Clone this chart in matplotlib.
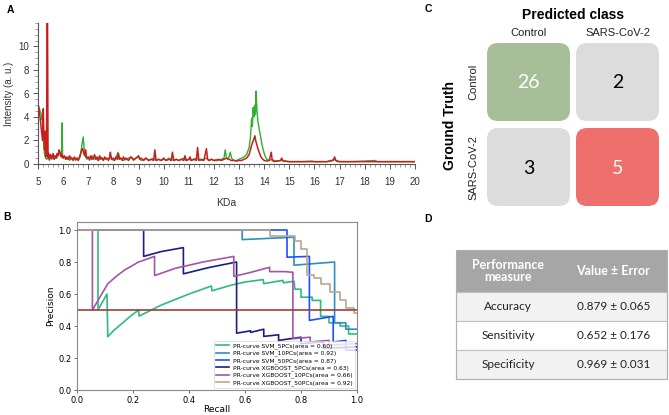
import matplotlib
matplotlib.use('Agg')
import matplotlib.pyplot as plt
from matplotlib.patches import FancyBboxPatch, Rectangle
from matplotlib.ticker import MultipleLocator

# ---------------- Panel A: MALDI spectra ----------------
control_kda = [5.00, 5.04, 5.08, 5.12, 5.15, 5.17, 5.20, 5.23, 5.26, 5.30, 5.35, 5.40, 5.45, 5.50, 5.55,
               5.60, 5.65, 5.70, 5.75, 5.80, 5.85, 5.90, 5.94, 5.96, 5.98, 6.02, 6.08, 6.14, 6.20, 6.26,
               6.32, 6.38, 6.44, 6.50, 6.56, 6.62, 6.68, 6.72, 6.76, 6.80, 6.83, 6.86, 6.90, 6.95, 7.00,
               7.05, 7.10, 7.15, 7.20, 7.30, 7.40, 7.50, 7.60, 7.70, 7.80, 7.90, 8.00, 8.10, 8.18, 8.22,
               8.30, 8.40, 8.50, 8.60, 8.70, 8.80, 8.90, 9.00, 9.10, 9.20, 9.30, 9.40, 9.50, 9.60, 9.70,
               9.80, 9.90, 10.0, 10.1, 10.2, 10.3, 10.4, 10.5, 10.6, 10.7, 10.8, 10.9, 11.0, 11.1, 11.2,
               11.3, 11.4, 11.5, 11.6, 11.7, 11.8, 11.9, 12.0, 12.1, 12.2, 12.3, 12.4, 12.45, 12.5, 12.55,
               12.6, 12.65, 12.7, 12.8, 12.9, 13.0, 13.1, 13.2, 13.3, 13.4, 13.45, 13.5, 13.53, 13.56, 13.59,
               13.62, 13.65, 13.68, 13.71, 13.75, 13.8, 13.85, 13.9, 13.95, 14.0, 14.05, 14.1, 14.2, 14.3, 14.4,
               14.5, 14.7, 15.0, 15.5, 15.9, 16.0, 16.5, 16.8, 16.9, 17.5, 18.0, 18.4, 18.5, 19.0, 19.5, 20.0]
control_int = [4.8, 4.9, 4.5, 4.3, 3.8, 4.0, 2.8, 1.6, 0.8, 0.5, 0.4, 0.6, 0.3, 0.6, 0.4,
               0.7, 0.4, 0.6, 0.5, 0.8, 1.0, 0.7, 0.6, 3.5, 0.6, 0.5, 0.6, 0.4, 0.5, 0.3,
               0.6, 0.4, 0.5, 0.3, 0.5, 0.4, 0.6, 1.2, 1.8, 2.3, 1.5, 0.9, 0.6, 0.4, 0.6,
               0.3, 0.5, 0.7, 0.4, 0.5, 0.3, 0.6, 0.4, 0.5, 0.4, 0.6, 0.3, 0.5, 1.0, 0.4,
               0.5, 0.3, 0.4, 0.5, 0.6, 0.3, 0.5, 0.6, 0.3, 0.4, 0.5, 0.3, 0.4, 0.5, 0.3,
               0.4, 0.3, 0.4, 0.3, 0.5, 0.4, 0.3, 0.4, 0.3, 0.4, 0.5, 0.3, 0.4, 0.3, 0.4,
               0.5, 0.4, 0.3, 0.4, 0.5, 0.3, 0.4, 0.3, 0.4, 0.3, 0.4, 0.5, 1.2, 0.5, 0.4,
               0.6, 1.0, 0.5, 0.3, 0.3, 0.4, 0.5, 0.6, 0.8, 1.4, 2.2, 3.9, 3.2, 4.8, 4.0,
               5.0, 4.2, 6.2, 4.6, 3.6, 3.0, 2.4, 1.8, 1.3, 0.9, 0.6, 0.4, 0.3, 0.4, 0.3,
               0.25, 0.3, 0.2, 0.2, 0.25, 0.2, 0.2, 0.4, 0.2, 0.2, 0.25, 0.3, 0.2, 0.2, 0.2, 0.2]

sars_kda = [5.00, 5.03, 5.06, 5.09, 5.12, 5.15, 5.18, 5.21, 5.23, 5.26, 5.29, 5.31, 5.34, 5.36, 5.38,
            5.40, 5.42, 5.46, 5.50, 5.55, 5.60, 5.64, 5.68, 5.72, 5.76, 5.80, 5.84, 5.88, 5.92, 5.96,
            6.00, 6.05, 6.10, 6.15, 6.20, 6.25, 6.30, 6.35, 6.40, 6.45, 6.50, 6.55, 6.60, 6.65, 6.70,
            6.74, 6.78, 6.82, 6.86, 6.90, 6.93, 7.00, 7.05, 7.10, 7.15, 7.20, 7.25, 7.30, 7.35, 7.40,
            7.45, 7.50, 7.55, 7.60, 7.65, 7.70, 7.75, 7.80, 7.85, 7.88, 7.92, 8.00, 8.05, 8.10, 8.15,
            8.20, 8.25, 8.30, 8.35, 8.40, 8.45, 8.50, 8.60, 8.70, 8.80, 8.90, 9.00, 9.05, 9.10, 9.20,
            9.30, 9.40, 9.50, 9.60, 9.65, 9.70, 9.80, 9.90, 10.0, 10.1, 10.2, 10.3, 10.35, 10.4, 10.5,
            10.6, 10.7, 10.8, 10.85, 10.9, 11.0, 11.05, 11.1, 11.2, 11.3, 11.35, 11.4, 11.5, 11.6, 11.7,
            11.75, 11.8, 11.9, 12.0, 12.1, 12.2, 12.3, 12.4, 12.5, 12.6, 12.7, 12.8, 12.9, 13.0, 13.1,
            13.2, 13.3, 13.4, 13.45, 13.5, 13.55, 13.6, 13.63, 13.66, 13.7, 13.75, 13.8, 13.85, 13.9, 14.0,
            14.1, 14.2, 14.28, 14.32, 14.4, 14.5, 14.65, 14.7, 14.75, 15.0, 15.5, 16.0, 16.5, 16.75, 16.8,
            16.85, 17.0, 17.5, 18.0, 18.5, 19.0, 19.5, 20.0]
sars_int = [4.6, 4.7, 4.3, 3.8, 3.2, 2.6, 2.0, 4.7, 2.8, 1.2, 2.8, 0.6, 0.8, 12.0, 12.0,
            0.5, 0.9, 0.4, 0.8, 0.5, 0.9, 0.4, 0.7, 0.5, 0.9, 0.7, 1.2, 1.0, 0.6, 0.8,
            0.5, 0.7, 0.4, 0.6, 0.4, 0.7, 0.4, 0.5, 0.3, 0.6, 0.4, 0.5, 0.3, 0.6, 0.9,
            1.2, 1.3, 0.9, 0.7, 1.2, 0.5, 0.6, 0.4, 0.7, 0.4, 0.5, 0.8, 0.4, 0.6, 0.3,
            0.7, 0.4, 0.5, 0.3, 0.6, 0.4, 0.5, 0.3, 0.6, 1.0, 0.4, 0.5, 0.3, 0.6, 0.4,
            0.9, 0.4, 0.5, 0.3, 0.6, 0.4, 0.5, 0.3, 0.6, 0.4, 0.5, 0.7, 0.4, 0.5, 0.3,
            0.5, 0.3, 0.4, 0.3, 1.2, 0.3, 0.4, 0.3, 0.5, 0.3, 0.4, 0.3, 1.0, 0.3, 0.4,
            0.3, 0.4, 0.3, 0.7, 0.3, 0.4, 0.6, 0.3, 0.4, 0.3, 1.4, 0.3, 0.4, 0.3, 1.3,
            0.4, 0.3, 0.4, 0.3, 0.3, 0.4, 0.3, 0.4, 0.5, 0.4, 0.3, 0.3, 0.25, 0.3, 0.3,
            0.4, 0.5, 0.8, 1.2, 1.6, 1.9, 2.2, 2.4, 2.0, 1.7, 1.3, 1.0, 0.7, 0.5, 0.3,
            0.25, 0.3, 1.0, 0.3, 0.2, 0.25, 0.3, 0.5, 0.25, 0.2, 0.2, 0.2, 0.2, 0.3, 0.6,
            0.3, 0.2, 0.2, 0.2, 0.2, 0.2, 0.2, 0.2]

# ---------------- Panel B: precision-recall curves ----------------
pr_names = ['SVM_5PCs', 'SVM_10PCs', 'SVM_50PCs', 'XGBOOST_5PCs', 'XGBOOST_10PCs', 'XGBOOST_50PCs']
pr_area = [0.60, 0.92, 0.87, 0.63, 0.66, 0.92]
pr_colors = ['#2dbd7b', '#2e8fbf', '#1f4fff', '#1c1c8c', '#a256a6', '#bba68e']

svm5_recall = [0, 0.075, 0.075, 0.107, 0.11, 0.13, 0.15, 0.17, 0.19, 0.22, 0.222, 0.30, 0.40, 0.48,
               0.482, 0.55, 0.60, 0.665, 0.667, 0.735, 0.737, 0.775, 0.778, 0.80, 0.80, 0.84, 0.84,
               0.87, 0.87, 0.90, 0.90, 0.94, 0.94, 0.97, 0.97, 1.0]
svm5_precision = [1.0, 1.0, 0.5, 0.6, 0.333, 0.37, 0.40, 0.43, 0.46, 0.5, 0.462, 0.53, 0.60, 0.65,
                  0.62, 0.655, 0.675, 0.69, 0.665, 0.685, 0.67, 0.68, 0.63, 0.63, 0.58, 0.58, 0.56,
                  0.56, 0.46, 0.46, 0.42, 0.42, 0.40, 0.40, 0.35, 0.35]
svm10_recall = [0, 0.59, 0.59, 0.775, 0.775, 0.92, 0.92, 0.96, 0.96, 1.0]
svm10_precision = [1.0, 1.0, 0.94, 0.955, 0.78, 0.80, 0.42, 0.42, 0.38, 0.38]
svm50_recall = [0, 0.75, 0.75, 0.83, 0.83, 0.915, 0.915, 0.96, 0.96, 1.0]
svm50_precision = [1.0, 1.0, 0.83, 0.835, 0.435, 0.46, 0.30, 0.31, 0.25, 0.25]
xgb5_recall = [0, 0.238, 0.238, 0.30, 0.38, 0.38, 0.47, 0.57, 0.57, 0.62, 0.62, 0.667, 0.667,
               0.72, 0.72, 0.80, 0.80, 0.88, 0.88, 1.0]
xgb5_precision = [1.0, 1.0, 0.835, 0.865, 0.89, 0.726, 0.765, 0.80, 0.355, 0.37, 0.36, 0.38, 0.335,
                  0.345, 0.31, 0.33, 0.29, 0.30, 0.26, 0.27]
xgb10_recall = [0, 0.055, 0.055, 0.075, 0.11, 0.14, 0.17, 0.22, 0.277, 0.277, 0.35, 0.45, 0.56,
                0.56, 0.62, 0.688, 0.688, 0.74, 0.771, 0.771, 0.80, 0.833, 0.833, 0.90, 0.90, 1.0]
xgb10_precision = [1.0, 1.0, 0.5, 0.56, 0.664, 0.71, 0.75, 0.80, 0.835, 0.715, 0.76, 0.80, 0.835,
                   0.71, 0.735, 0.767, 0.74, 0.74, 0.736, 0.32, 0.325, 0.33, 0.30, 0.31, 0.28, 0.29]
xgb50_recall = [0, 0.69, 0.69, 0.78, 0.78, 0.80, 0.80, 0.82, 0.82, 0.845, 0.845, 0.87, 0.87, 0.905,
                0.905, 0.94, 0.94, 0.96, 0.96, 0.99, 0.99, 1.0]
xgb50_precision = [1.0, 1.0, 0.965, 0.965, 0.93, 0.93, 0.88, 0.88, 0.72, 0.72, 0.70, 0.70, 0.66, 0.66,
                   0.61, 0.61, 0.56, 0.56, 0.51, 0.51, 0.48, 0.48]
baseline_precision = 0.5

# ---------------- Panel C: confusion matrix ----------------
cm_classes = ['Control', 'SARS-CoV-2']
cm_values = [[26, 2], [3, 5]]

# ---------------- Panel D: performance table ----------------
perf_header = ['Performance\nmeasure', 'Value \u00b1 Error']
perf_measures = ['Accuracy', 'Sensitivity', 'Specificity']
perf_values = [0.879, 0.652, 0.969]
perf_errors = [0.065, 0.176, 0.031]

W, H = 669, 415
fig = plt.figure(figsize=(W / 100, H / 100), dpi=100)
AR = 'Liberation Sans'
CAL = 'Lato'

def fx(px):
    return px / W

def fy(py):
    return 1 - py / H

# overlay axes in pixel coordinates
ov = fig.add_axes([0, 0, 1, 1])
ov.set_xlim(0, W)
ov.set_ylim(H, 0)
ov.axis('off')

# ---- Panel A ----
axA = fig.add_axes([fx(38), fy(164), fx(415) - fx(38), fy(23) - fy(164)])
axA.set_facecolor('none')
axA.plot(control_kda, control_int, color='#2fb02f', lw=1.0, zorder=2)
axA.plot(sars_kda, sars_int, color='#c81e1e', lw=1.1, zorder=3)
axA.set_xlim(5, 20)
axA.set_ylim(0, 12)
for s in ['top', 'right']:
    axA.spines[s].set_visible(False)
for s in ['left', 'bottom']:
    axA.spines[s].set_color('#555555')
    axA.spines[s].set_linewidth(0.8)
axA.set_xticks(range(5, 21))
axA.set_yticks(range(0, 11, 2))
axA.xaxis.set_minor_locator(MultipleLocator(0.2))
axA.yaxis.set_minor_locator(MultipleLocator(0.5))
axA.tick_params(axis='both', which='major', length=3.5, width=0.7, color='#555555',
                labelsize=7, labelcolor='#333333')
axA.tick_params(axis='x', which='major', pad=6)
axA.tick_params(axis='y', which='major', pad=3)
axA.tick_params(axis='both', which='minor', length=2, width=0.5, color='#777777')
for lab in axA.get_xticklabels() + axA.get_yticklabels():
    lab.set_fontfamily(AR)
axA.set_xlabel('KDa', fontsize=7.5, family=AR, color='#333333', labelpad=8)
axA.set_ylabel('Intensity (a. u.)', fontsize=7, family=AR, color='#333333', labelpad=3)

# ---- Panel B ----
axB = fig.add_axes([fx(77), fy(390), fx(357) - fx(77), fy(222) - fy(390)])
curves = [(svm5_recall, svm5_precision), (svm10_recall, svm10_precision),
          (svm50_recall, svm50_precision), (xgb5_recall, xgb5_precision),
          (xgb10_recall, xgb10_precision), (xgb50_recall, xgb50_precision)]
for (r, p), name, area, col in zip(curves, pr_names, pr_area, pr_colors):
    axB.plot(r, p, color=col, lw=1.2, label='PR-curve %s(area = %.2f)' % (name, area))
axB.axhline(baseline_precision, color='#9e3d3a', lw=1.2)
axB.set_xlim(0, 1.0)
axB.set_ylim(0, 1.05)
axB.set_xticks([0, 0.2, 0.4, 0.6, 0.8, 1.0])
axB.set_yticks([0, 0.2, 0.4, 0.6, 0.8, 1.0])
axB.tick_params(labelsize=6, length=2.5, width=0.6, pad=1.5, color='#555555')
for s in axB.spines.values():
    s.set_color('#8a8a8a')
    s.set_linewidth(0.8)
axB.set_xlabel('Recall', fontsize=6.5, labelpad=0)
axB.set_ylabel('Precision', fontsize=6.5, labelpad=2)
leg = axB.legend(loc='lower right', fontsize=4.3, handlelength=2.2, labelspacing=0.25,
                 borderpad=0.4, handletextpad=0.6, framealpha=0.8, borderaxespad=0.3)
leg.get_frame().set_linewidth(0.5)

# ---- Panel labels ----
for lab, (px, py) in zip(['A', 'B', 'C', 'D'], [(10, 10), (7, 217), (428, 9), (428, 219)]):
    ov.text(px, py, lab, fontsize=7.5, fontweight='bold', family=AR, ha='center', va='center')

# ---- Panel C ----
cm_x0, cm_y0 = 487, 43
cm_pitch_x, cm_pitch_y = 89, 85
cm_w, cm_h = 83, 78
cm_face = [['#a6bf99', '#dcdcdc'], ['#dcdcdc', '#ee706c']]
cm_text = [['white', 'black'], ['black', 'white']]
for i in range(2):
    for j in range(2):
        x0 = cm_x0 + j * cm_pitch_x
        y0 = cm_y0 + i * cm_pitch_y
        box = FancyBboxPatch((x0, y0), cm_w, cm_h, boxstyle='round,pad=0,rounding_size=11',
                             facecolor=cm_face[i][j], edgecolor='none')
        ov.add_patch(box)
        ov.text(x0 + cm_w / 2, y0 + cm_h / 2 + 1, str(cm_values[i][j]), fontsize=14,
                family=CAL, color=cm_text[i][j], ha='center', va='center')
    ov.text(cm_x0 + i * cm_pitch_x + cm_w / 2, 33, cm_classes[i], fontsize=8, family=AR,
            ha='center', va='center', color='#222222')
    ov.text(473, cm_y0 + i * cm_pitch_y + cm_h / 2, cm_classes[i], fontsize=8, family=AR,
            ha='center', va='center', rotation=90, color='#222222')
ov.text(573, 15, 'Predicted class', fontsize=10, fontweight='bold', family=AR,
        ha='center', va='center')
ov.text(450, 125, 'Ground Truth', fontsize=10, fontweight='bold', family=AR,
        ha='center', va='center', rotation=90)

# ---- Panel D ----
tx0, tx1, tsplit = 456, 667, 560
t_head_top, t_head_bot = 250, 292
row_h = 29
ov.add_patch(Rectangle((tx0, t_head_top), tx1 - tx0, t_head_bot - t_head_top,
                       facecolor='#a6a6a6', edgecolor='none'))
ov.text((tx0 + tsplit) / 2, (t_head_top + t_head_bot) / 2, perf_header[0], fontsize=9,
        fontweight='bold', family=CAL, color='white', ha='center', va='center', linespacing=1.0)
ov.text((tsplit + tx1) / 2, (t_head_top + t_head_bot) / 2, perf_header[1], fontsize=9,
        fontweight='bold', family=CAL, color='white', ha='center', va='center')
for k, (m, v, e) in enumerate(zip(perf_measures, perf_values, perf_errors)):
    y0 = t_head_bot + k * row_h
    ov.add_patch(Rectangle((tx0, y0), tx1 - tx0, row_h,
                           facecolor='#f2f2f2' if k % 2 == 0 else 'white',
                           edgecolor='#c0c0c0', lw=0.8))
    ov.text((tx0 + tsplit) / 2, y0 + row_h / 2, m, fontsize=8.5, family=CAL,
            color='#222222', ha='center', va='center')
    ov.text((tsplit + tx1) / 2, y0 + row_h / 2, '%.3f \u00b1 %.3f' % (v, e), fontsize=8.5,
            family=CAL, color='#222222', ha='center', va='center')
ov.add_patch(Rectangle((tx0, t_head_top), tx1 - tx0, t_head_bot - t_head_top + 3 * row_h,
                       facecolor='none', edgecolor='#b0b0b0', lw=0.8))

fig.savefig('out.png', dpi=100)
